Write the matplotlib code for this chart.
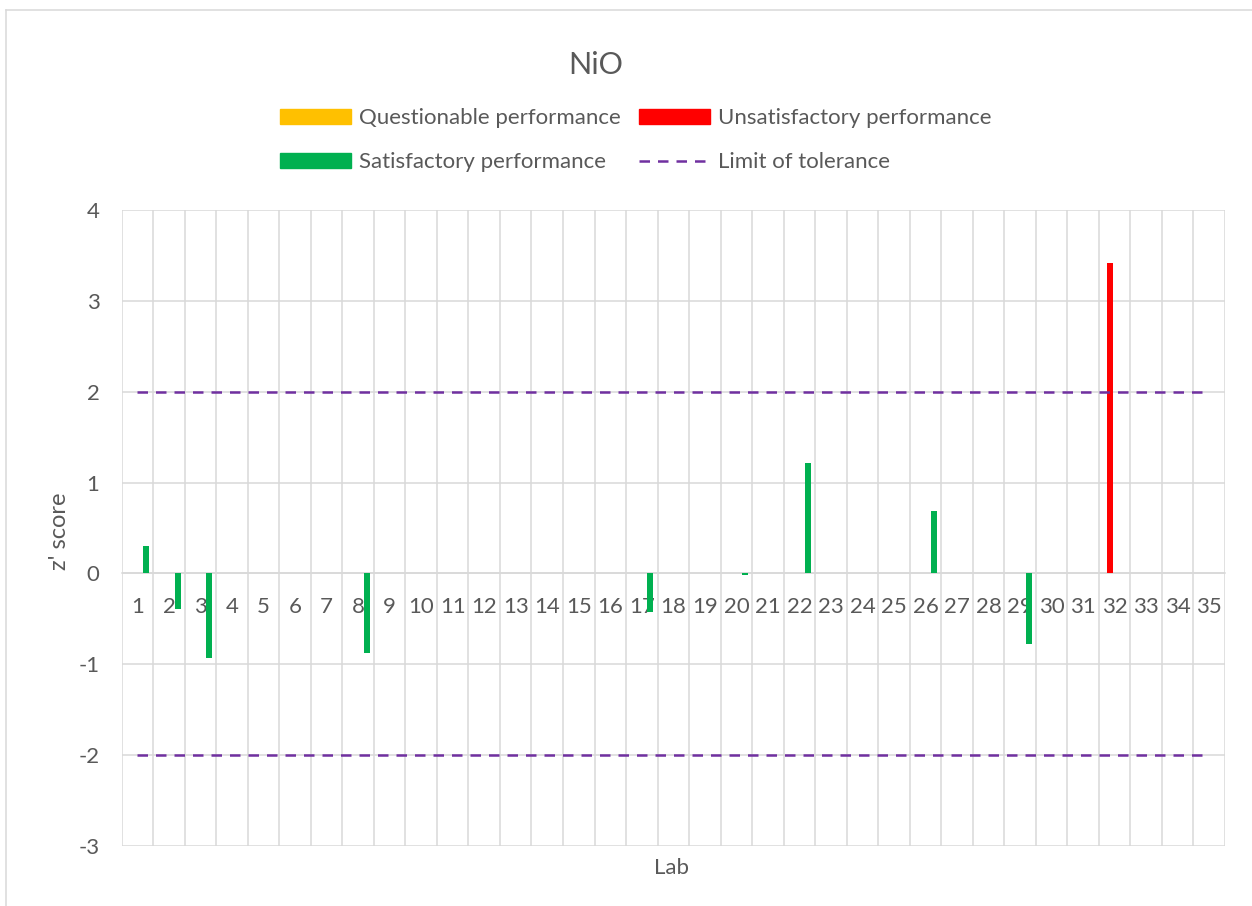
import numpy as np
import matplotlib
matplotlib.use("Agg")
import matplotlib.pyplot as plt
from matplotlib.patches import Patch
from matplotlib.lines import Line2D

labs = [str(i) for i in range(1, 36)]
nan = np.nan
questionable = [nan] * 35
unsatisfactory = [nan] * 31 + [3.42] + [nan] * 3
satisfactory = [0.30, -0.39, -0.93, nan, nan, nan, nan, -0.88, nan, nan,
                nan, nan, nan, nan, nan, nan, -0.42, nan, nan, -0.02,
                nan, 1.21, nan, nan, nan, 0.69, nan, nan, -0.78, nan,
                nan, nan, nan, nan, nan]
upper_limit = [2] * 35
lower_limit = [-2] * 35

TXT = "#595959"
GRID = "#D9D9D9"
DASH = (0, (4.2, 3.2))
plt.rcParams['font.family'] = ['Lato', 'DejaVu Sans']
plt.rcParams['axes.unicode_minus'] = False

W, H = 1252, 906
fig = plt.figure(figsize=(W / 100, H / 100), dpi=100)
ax = fig.add_axes([121.7 / W, 1 - 846 / H, (1225 - 121.7) / W, (846 - 210) / H])

x = np.arange(1, 36)
bw = 0.19
ax.bar(x - 0.35, questionable, width=bw, color="#FFC000", zorder=3)
ax.bar(x - 0.142, unsatisfactory, width=bw, color="#FF0000", zorder=3)
ax.bar(x + 0.272, satisfactory, width=bw, color="#00B050", zorder=3)
ax.plot(x, upper_limit, color="#7030A0", lw=1.8, ls=DASH, zorder=4)
ax.plot(x, lower_limit, color="#7030A0", lw=1.8, ls=DASH, zorder=4)

ax.set_xlim(0.5, 35.5)
ax.set_ylim(-3, 4)
ax.set_yticks(range(-3, 5))
ax.set_xticks(x)
ax.set_xticklabels(labs)
ax.set_xticks(np.arange(0.5, 36, 1), minor=True)
ax.grid(axis='y', which='major', color=GRID, lw=1.1, zorder=0)
ax.grid(axis='x', which='minor', color=GRID, lw=1.1, zorder=0)
ax.grid(axis='x', which='major', visible=False)
for s in ['top', 'right', 'left']:
    ax.spines[s].set_visible(False)
ax.spines['bottom'].set_position(('data', 0))
ax.spines['bottom'].set_color(GRID)
ax.spines['bottom'].set_linewidth(1.1)
ax.tick_params(axis='both', which='both', length=0, labelsize=16, colors=TXT)
ax.tick_params(axis='x', which='major', pad=17)
ax.tick_params(axis='y', pad=16)

fig.text(60 / W, 1 - 531 / H, "z' score", rotation=90, ha='center', va='center',
         fontsize=17, color=TXT)
fig.text(672 / W, 1 - 868 / H, "Lab", ha='center', va='center', fontsize=16, color=TXT)
fig.text(596 / W, 1 - 65 / H, "NiO", ha='center', va='center', fontsize=22, color=TXT)

handles = [Patch(color="#FFC000"), Patch(color="#00B050"),
           Patch(color="#FF0000"),
           Line2D([], [], color="#7030A0", lw=1.8, ls=DASH)]
labels = ["Questionable performance", "Satisfactory performance",
          "Unsatisfactory performance", "Limit of tolerance"]
leg = fig.legend(handles, labels, ncol=2, loc='upper left',
                 bbox_to_anchor=(280 / W, 1 - 108 / H), frameon=False,
                 fontsize=16, labelcolor=TXT, handlelength=3.2, handleheight=0.65,
                 handletextpad=0.36, columnspacing=0.8, labelspacing=1.1,
                 borderpad=0, borderaxespad=0)

fig.add_artist(Line2D([5.5 / W, 1], [1 - 9.5 / H, 1 - 9.5 / H], color=GRID, lw=1.1,
                      transform=fig.transFigure))
fig.add_artist(Line2D([5.5 / W, 5.5 / W], [0, 1 - 9.5 / H], color=GRID, lw=1.1,
                      transform=fig.transFigure))

fig.savefig("out.png", dpi=100)
